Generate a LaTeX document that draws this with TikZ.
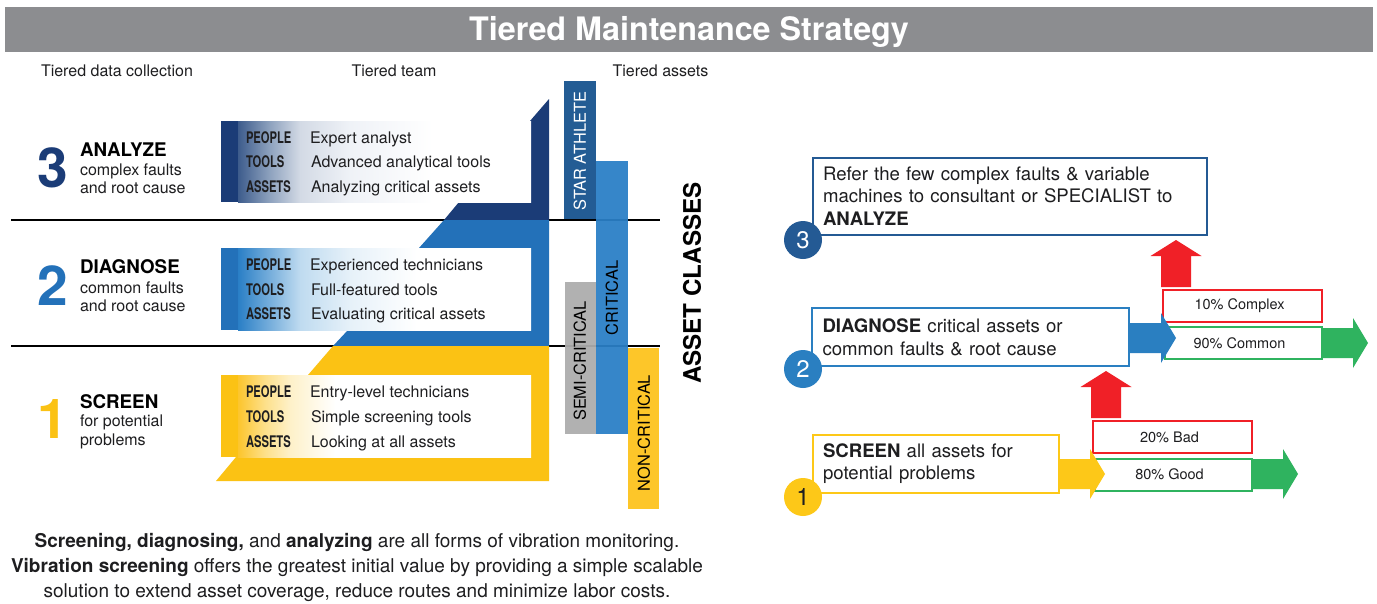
\documentclass[tikz,border=0pt]{standalone}
\usepackage{fontspec}
\setmainfont{TeX Gyre Heros}
\newfontfamily\condb[FakeStretch=0.70]{TeX Gyre Heros}
\usetikzlibrary{calc}
\definecolor{ink}{HTML}{1E1E20}
\definecolor{titlegrey}{HTML}{8C8D90}
\definecolor{navy}{HTML}{1B3C77}
\definecolor{blueL}{HTML}{2371B9}
\definecolor{yel}{HTML}{FBC214}
\definecolor{starbar}{HTML}{1B5690}
\definecolor{critbar}{HTML}{2A7FC6}
\definecolor{semibar}{HTML}{ADADAD}
\definecolor{noncrit}{HTML}{FDC629}
\definecolor{box3}{HTML}{245A94}
\definecolor{box2}{HTML}{2A7FC1}
\definecolor{box1}{HTML}{FDC818}
\definecolor{redc}{HTML}{F02027}
\definecolor{greenc}{HTML}{2FB35F}
\definecolor{nv0}{HTML}{3D5C8C}
\definecolor{nv1}{HTML}{8FA3BF}
\definecolor{nv2}{HTML}{D3DAE5}
\definecolor{nv3}{HTML}{EFF2F7}
\definecolor{bl0}{HTML}{2A7FC6}
\definecolor{bl1}{HTML}{BFDBF0}
\definecolor{bl2}{HTML}{E6F1F9}
\definecolor{ye0}{HTML}{FCC52D}
\definecolor{ye1}{HTML}{FDE08A}
\definecolor{ye2}{HTML}{FEF1C9}
\pgfdeclarehorizontalshading{navyfade}{100bp}{color(0bp)=(nv0); color(25bp)=(nv0); color(30.5bp)=(nv1); color(35.6bp)=(nv2); color(44.1bp)=(nv3); color(58.3bp)=(white); color(100bp)=(white)}
\pgfdeclarehorizontalshading{bluefade}{100bp}{color(0bp)=(bl0); color(25bp)=(bl0); color(35.6bp)=(bl1); color(44.1bp)=(bl2); color(55.5bp)=(white); color(100bp)=(white)}
\pgfdeclarehorizontalshading{yelfade}{100bp}{color(0bp)=(ye0); color(25bp)=(ye0); color(29.6bp)=(ye1); color(33.9bp)=(ye2); color(41.6bp)=(white); color(100bp)=(white)}
\newcommand\fs[1]{\fontsize{#1}{#1}\selectfont}
\tikzset{
  lbl/.style={anchor=base west,inner sep=0pt,outer sep=0pt,text=ink},
  ctr/.style={anchor=base,inner sep=0pt,outer sep=0pt,text=ink},
  hd/.style={lbl,font=\fs{18.8}\bfseries,text=black},
  sub/.style={lbl,font=\fs{16}},
  big/.style={anchor=base west,inner sep=0pt,font=\fs{55}\bfseries},
  capt/.style={lbl,font=\condb\bfseries\fs{16}},
  val/.style={lbl,font=\fs{16}},
  vbar/.style={anchor=center,rotate=90,inner sep=0pt,font=\fs{16.4},text=black},
  msg/.style={draw,line width=2pt,fill=white,inner sep=0pt,outer sep=0pt,align=left,text=ink,font=\fs{18.6},execute at begin node={\setlength{\baselineskip}{22.7pt}}},
  pct/.style={draw,line width=2pt,fill=white,inner sep=0pt,outer sep=0pt,align=center,text=ink,font=\fs{14.5}},
  num/.style={circle,inner sep=0pt,outer sep=0pt,minimum size=38pt,text=white,font=\fs{24}}
}
% block arrows: colour, start, tip
\newcommand\blockR[3]{\fill[#1] let \p1=(#2),\p2=(#3) in
  (\x1,\y2+15pt) -- (\x2-15pt,\y2+15pt) -- (\x2-15pt,\y2+25pt) -- (\x2,\y2) --
  (\x2-15pt,\y2-25pt) -- (\x2-15pt,\y2-15pt) -- (\x1,\y2-15pt) -- cycle;}
\newcommand\blockU[3]{\fill[#1] let \p1=(#2),\p2=(#3) in
  (\x2-15pt,\y1) -- (\x2-15pt,\y2-16pt) -- (\x2-25.5pt,\y2-16pt) -- (\x2,\y2) --
  (\x2+25.5pt,\y2-16pt) -- (\x2+15pt,\y2-16pt) -- (\x2+15pt,\y1) -- cycle;}
\begin{document}
\begin{tikzpicture}[x=1pt,y=-1pt]
\useasboundingbox (0,0) rectangle (1377,603);
\fill[white] (0,0) rectangle (1377,603);
% title
\fill[titlegrey] (5,7) rectangle (1373,52);
\node[anchor=base,inner sep=0pt,text=white,font=\fs{32.3}\bfseries] (title) at (689,40) {Tiered Maintenance Strategy};
% column heads
\node[lbl,font=\fs{16}] (h1) at (41,76) {Tiered data collection};
\node[ctr,font=\fs{16}] (h2) at (394,76) {Tiered team};
\node[ctr,font=\fs{16}] (h3) at (660.5,76) {Tiered assets};
% rules
\draw[black,line width=2pt] (11,220) -- (660,220);
\draw[black,line width=2pt] (11,346) -- (660,346);
% stepped bands
\fill[navy] (549,99) -- (530,121) -- (530,202) -- (459,202) -- (444,220) -- (549,220) -- cycle;
\fill[blueL] (444,220) -- (419,248) -- (530,248) -- (530,330) -- (348,330) -- (333,346) -- (549,346) -- (549,220) -- cycle;
\fill[yel] (333,346) -- (308,375) -- (530,375) -- (530,457) -- (236,457) -- (216,481) -- (549,481) -- (549,346) -- cycle;
% team panels
\shade[shading=navyfade] (238,121) rectangle (531,202);
\shade[shading=bluefade] (238,248) rectangle (531,330);
\shade[shading=yelfade] (238,375) rectangle (531,457);
\fill[navy] (221,121) rectangle (238,202);
\fill[blueL] (221,248) rectangle (238,330);
\fill[yel] (221,375) rectangle (238,457);
% left labels
\node[big,text=navy] (n3) at (37,187) {3};
\node[big,text=blueL] (n2) at (37,305) {2};
\node[big,text=yel] (n1) at (37,438) {1};
\node[hd] (a1) at (80,156) {ANALYZE};
\node[sub] (a2) at (80,175) {complex faults};
\node[sub] (a3) at (80,193) {and root cause};
\node[hd] (d1) at (80,273) {DIAGNOSE};
\node[sub] (d2) at (80,293) {common faults};
\node[sub] (d3) at (80,311) {and root cause};
\node[hd] (s1) at (80,408) {SCREEN};
\node[sub] (s2) at (80,426) {for potential};
\node[sub] (s3) at (80,445) {problems};
% panel text
\node[capt] (p3a) at (246,143) {PEOPLE};
\node[capt] (p3b) at (246,167) {TOOLS};
\node[capt] (p3c) at (246,192) {ASSETS};
\node[val] (v3a) at (310,143) {Expert analyst};
\node[val] (v3b) at (311,167) {Advanced analytical tools};
\node[val] (v3c) at (311,192) {Analyzing critical assets};
\node[capt] (p2a) at (246,270) {PEOPLE};
\node[capt] (p2b) at (246,295) {TOOLS};
\node[capt] (p2c) at (246,319) {ASSETS};
\node[val] (v2a) at (310,270) {Experienced technicians};
\node[val] (v2b) at (311,295) {Full-featured tools};
\node[val] (v2c) at (311,319) {Evaluating critical assets};
\node[capt] (p1a) at (246,397) {PEOPLE};
\node[capt] (p1b) at (246,422) {TOOLS};
\node[capt] (p1c) at (246,447) {ASSETS};
\node[val] (v1a) at (310,397) {Entry-level technicians};
\node[val] (v1b) at (311,422) {Simple screening tools};
\node[val] (v1c) at (311,447) {Looking at all assets};
% asset bars
\fill[starbar,opacity=.96] (564,81) rectangle (596,219);
\fill[critbar,fill opacity=.94] (596,161) rectangle (628,434);
\fill[semibar,fill opacity=.94] (565,282) rectangle (596,434);
\fill[noncrit] (628,347.5) rectangle (659,509);
\node[vbar,text=white] (b1) at (580,151) {STAR ATHLETE};
\node[vbar] (b2) at (612,298) {CRITICAL};
\node[vbar] (b3) at (580,361) {SEMI-CRITICAL};
\node[vbar] (b4) at (644,433) {NON-CRITICAL};
\node[anchor=center,rotate=90,inner sep=0pt,font=\fs{24.2}\bfseries,text=black] (ac) at (692,283) {ASSET CLASSES};
% footer
\node[ctr,font=\fs{19}] (f1) at (357,547) {\textbf{Screening, diagnosing,} and \textbf{analyzing} are all forms of vibration monitoring.};
\node[ctr,font=\fs{19}] (f2) at (357,572) {\textbf{Vibration screening} offers the greatest initial value by providing a simple scalable};
\node[ctr,font=\fs{19}] (f3) at (357,597) {solution to extend asset coverage, reduce routes and minimize labor costs.};
% right flow: boxes
\node[msg,draw=box3,minimum width=394pt,minimum height=77pt,text width=373pt] (m3) at (1009.5,196) {Refer the few complex faults \& variable\\machines to consultant or SPECIALIST to\\\textbf{ANALYZE}};
\node[msg,draw=box2,minimum width=317pt,minimum height=58pt,text width=296pt] (m2) at (970.5,337) {\textbf{DIAGNOSE} critical assets or\\common faults \& root cause};
\node[msg,draw=box1,minimum width=246pt,minimum height=58pt,text width=225pt] (m1) at (935.5,463.5) {\textbf{SCREEN} all assets for\\potential problems};
\node[pct,draw=redc,minimum width=159pt,minimum height=32pt] (c10) at (1242,305.5) {10\% Complex\hspace*{5pt}};
\node[pct,draw=greenc,minimum width=157pt,minimum height=31.5pt] (c90) at (1243,343) {90\% Common\hspace*{7pt}};
\node[pct,draw=redc,minimum width=159pt,minimum height=31.5pt] (c20) at (1172,437) {20\% Bad\hspace*{5pt}};
\node[pct,draw=greenc,minimum width=157pt,minimum height=32pt] (c80) at (1173,474.5) {80\% Good\hspace*{7pt}};
\node[num,fill=box3] (o3) at (803,240) {3};
\node[num,fill=box2] (o2) at (803,369) {2};
\node[num,fill=box1,text=ink] (o1) at (803,497) {1};
% block arrows
\coordinate (t1) at (1105,474);
\coordinate (t2) at (1176,338);
\coordinate (t3) at (1298,474);
\coordinate (t4) at (1368,343);
\coordinate (u1) at (1106,371);
\coordinate (u2) at (1176,240);
\coordinate (u1s) at (1106,418);
\coordinate (u2s) at (1176,287);
\blockR{box1}{m1.east}{t1}
\blockR{box2}{m2.east}{t2}
\blockR{greenc}{c80.east}{t3}
\blockR{greenc}{c90.east}{t4}
\blockU{redc}{u1s}{u1}
\blockU{redc}{u2s}{u2}
\end{tikzpicture}
\end{document}
